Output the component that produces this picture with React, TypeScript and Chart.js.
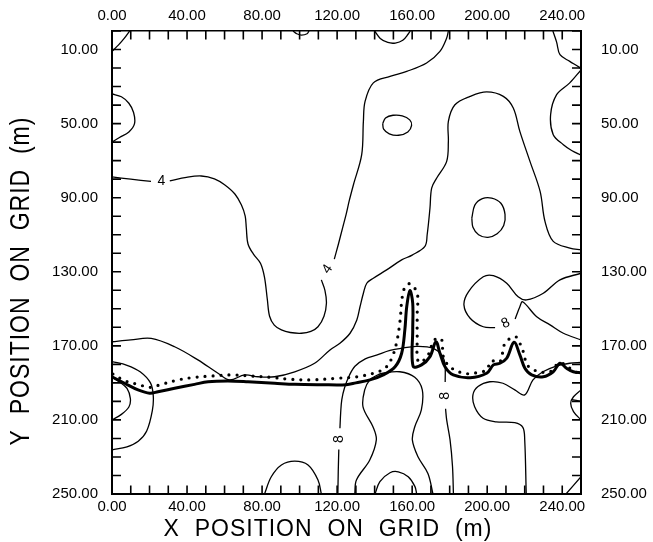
import React, { useEffect, useRef } from "react";
import { Chart, registerables } from "chart.js";

Chart.register(...registerables);

type Pt = [number, number] | null;

// axis labels
const xLabelValues = [0, 40, 80, 120, 160, 200, 240];
const yLabelValues = [10, 50, 90, 130, 170, 210, 250];

// thin contour lines (x, y in metres); null = break for a label
const cornerArc: Pt[] = [[0, 11], [3.5, 7.5], [6.5, 4], [9.4, 0]];
const leftBulge: Pt[] = [[0, 34], [5, 35.5], [9, 39], [11.5, 44], [12, 50], [9, 54.5], [4, 57.5], [0, 60]];
const contour4: Pt[] = [
  [0, 78.8], [10, 80], [20.8, 81.2], null, [30.8, 80.9], [39.7, 79], [47.6, 78.3], [54.6, 79.8],
  [60, 83], [65.5, 88], [69, 94], [71, 100], [71.6, 106.4], [72.5, 115], [75.4, 120.5], [79.2, 125.5],
  [81.3, 133], [82.8, 145], [84, 154], [86.5, 158.8], [90.3, 161.4], [95, 162.8], [101, 163.2],
  [106, 162.2], [109.8, 159.7], [113, 154], [114.3, 147], [113.5, 140], [111.6, 134.4], null,
  [118.5, 123.2], [120.6, 115.4], [123, 106], [124.8, 99], [126.5, 91.5], [128.7, 83], [133.1, 66.8],
  [134, 48.8], [134.9, 38], [139.3, 28], [148.2, 24.5], [157.1, 21.8], [167.7, 17.3], [174.8, 11],
  [178.4, 3.8], [179.3, 0],
];
const topBlip: Pt[] = [[96.5, 0], [98.5, 1.5], [101, 2.2], [104, 1.5], [105, 0]];
const topArc: Pt[] = [[140, 0], [143, 4], [147, 6.2], [151, 6.5], [155, 5], [158, 1.5], [159, 0]];
const upperRing: Pt[] = [
  [144.3, 50], [145.8, 47], [149.8, 45.5], [154.7, 45.8], [158.7, 48], [159.7, 51],
  [157.7, 54.5], [152.8, 56.3], [147.8, 55.5], [144.8, 53], [144.3, 50],
];
const longContour: Pt[] = [
  [0, 167.8], [10, 166.8], [20.9, 166], [33.4, 170.5], [45.8, 177.6], [56.5, 184.8], [62.7, 188.4],
  [70.7, 185.7], [77.9, 186.7], [86.7, 186.7], [97.4, 184], [108, 179.4], [116.2, 172.2],
  [121.5, 168.6], [126.9, 163.2], [130.5, 156], [132.2, 148.9], [134, 141.6], [135.8, 136.2],
  [139.3, 133.5], [146.4, 129], [154.4, 123.6], [160, 121], [166.8, 116.3], [168, 110],
  [169.5, 95.6], [170.4, 84.8], [173.1, 79.4], [178.4, 70.4], [179.3, 59.6], [179.3, 48.8],
  [182.8, 39.8], [190.9, 35.3], [199.7, 32.9], [208.6, 35.3], [213.9, 41.6], [217.4, 54.2],
  [222.8, 70.4], [228.2, 86.6], [230.8, 102.8], [235.2, 113.6], [244.1, 117.2], [250, 118.1],
];
const rightTop: Pt[] = [[235, 0], [237, 6], [238.8, 12.8], [244, 16.4], [249, 19.5], [250, 20.5]];
const rightBulge: Pt[] = [[250, 21], [244, 28], [237, 34.4], [233.8, 45.2], [235.2, 56], [240.6, 61.4], [245, 64.5], [250, 67]];
const midRing: Pt[] = [
  [191.8, 101], [193.4, 94], [197.4, 90.5], [202.4, 90.2], [207.3, 93], [209.5, 99],
  [208.8, 105], [205.3, 109.5], [200.4, 111.4], [195.4, 110], [192.4, 106], [191.8, 101],
];
const leftOuter: Pt[] = [[0, 178.5], [8, 180.5], [15, 184], [20.5, 190], [22, 197], [21.5, 205], [18.5, 216], [14, 221.5], [8, 224.5], [0, 226.2]];
const leftInner: Pt[] = [[0, 187], [4, 189.5], [8, 193], [9.8, 198.5], [9, 203], [5, 207], [0, 210]];
const bottomDome: Pt[] = [[81.3, 250], [84.9, 240.7], [90.3, 234.3], [97.4, 232.2], [104.5, 234.3], [109.8, 242.4], [111.6, 250]];
const contour8: Pt[] = [
  [120.4, 250], [120.6, 238], [120.9, 226], null, [121.5, 214.5], [121.9, 206], [122.5, 199],
  [124, 192.5], [126.5, 186], [129.5, 181], [135, 177], [141, 175], [148.2, 172.5], [155, 171.2],
  [162, 170.3], [168, 170.6], [172, 171.8], [175, 174], [177, 177.5], [177.6, 181.3], [177.6, 189.5],
  null, [177.8, 204], [178.4, 210], [180.2, 220.8], [181.5, 235], [182, 250],
];
const bottle: Pt[] = [
  [129.4, 250], [130.3, 242.4], [137.4, 231.6], [140.9, 220.8], [139.1, 213.7], [133.8, 202.9],
  [134.7, 193.8], [137.4, 188.4], [141, 186], [144.4, 184.8], [153.4, 184], [161.4, 187],
  [165.4, 193.8], [164.9, 204.6], [161.4, 213.7], [160.1, 220.8], [163.1, 229.9], [168.4, 238.9], [171.1, 250],
];
const smallDome: Pt[] = [[140.2, 250], [142.8, 243.3], [148.2, 238.5], [152.6, 238], [157.9, 240.7], [161.5, 246], [162.4, 250]];
const rightHook: Pt[] = [
  [220.8, 250], [220, 220.8], [219, 214], [214.7, 211.5], [204.8, 211], [197.8, 209.1], [193.3, 202.9],
  [192.4, 196.5], [195.1, 192], [201.4, 189.4], [208.4, 190.2], [214.7, 193.8], [220, 196.5],
  [224.4, 188.4], [229.7, 184], [236.8, 180.9], [244, 179.4], [250, 179],
];
const saddle: Pt[] = [
  [250, 130.8], [238.8, 134.4], [229.9, 141.6], [221, 145.2], [216.5, 143.5], [210.4, 136.2],
  [203.3, 132.1], [197.9, 132.7], [190, 140.8], [187.6, 147.9], [190.9, 155.1], [197.9, 159.7],
  [204.2, 160.2], null, [214.9, 155.5], [217.4, 148.9], [218.9, 146.2], [226.4, 154.3],
  [233.5, 158.7], [240.6, 163.2], [250, 166.8],
];
const edgeCup: Pt[] = [[250, 193.8], [246, 197.5], [244.5, 201], [246, 205.5], [250, 210]];
const edgeBar: Pt[] = [[245, 199], [250, 200]];
const cornerCut: Pt[] = [[242, 250], [250, 240.7]];

// heavy solid line and dotted line
const solidFront: Pt[] = [
  [0, 186.7], [6.7, 190.2], [13.9, 193.8], [20.1, 195.6], [24.5, 194.8], [33.4, 192.9], [44, 190.8],
  [51.2, 189.4], [61.8, 189], [72.5, 189.4], [86.7, 190.2], [97.4, 190.8], [111.6, 191], [124.9, 191],
  [130, 190], [137.5, 188.4], [144.6, 185.7], [150.9, 181.3], [154.4, 174], [156.1, 161.4],
  [157.1, 148.9], [158.8, 140.2], [160.3, 147], [160.3, 161.4], [160.5, 181], [165, 180.3],
  [169.5, 175.8], [172.7, 167.8], [174.8, 174], [177.5, 181.3], [181.9, 185.7], [190.9, 187.2],
  [199.7, 184.8], [203.3, 180.3], [206.8, 179.4], [210.4, 176.7], [214.3, 168.1], [217.4, 174.9],
  [220.1, 182.1], [223.7, 185.7], [229.9, 186.7], [235.2, 184], [238.8, 179.4], [242.3, 182.1],
  [245.9, 184], [250, 184.5],
];
const dottedFront: Pt[] = [
  [0.5, 185.2], [6.7, 188.8], [13.9, 190.8], [20.1, 192.4], [26.3, 190.8], [35.2, 188.4], [44, 187],
  [53, 186.3], [63.6, 185.7], [74.3, 186.3], [84.9, 187], [95.5, 188.1], [106.2, 188.4], [119.7, 187.5],
  [130.5, 186.7], [139.3, 184.8], [145.5, 182.1], [149.1, 176.7], [151.8, 167.8], [153.6, 156],
  [154.5, 145.2], [156.1, 138.4], [158.8, 136.5], [162.7, 141.6], [162.7, 152.4], [162.7, 165],
  [163.3, 178.6], [167.8, 176.2], [171.2, 167.8], [173.4, 165.8], [175.8, 166.8], [176.6, 175.8],
  [180.1, 181.3], [187.3, 184.8], [192.3, 184.8], [199.7, 183], [201.9, 178.2], [206.8, 178.6],
  [209.5, 168.6], [214.9, 165], [217.4, 168.6], [219.5, 174], [221.3, 180.3], [226.4, 183.6],
  [233.5, 184], [238, 179.4], [242, 180.3], [245, 182.9], [248.6, 184.8],
];

const thinLines: Pt[][] = [
  cornerArc, leftBulge, contour4, topBlip, topArc, upperRing, longContour, rightTop, rightBulge,
  midRing, leftOuter, leftInner, bottomDome, contour8, bottle, smallDome, rightHook, saddle,
  edgeCup, edgeBar, cornerCut,
];

// contour value labels
const labelText = ["4", "4", "8", "8", "8"];
const labelX = [26.3, 114.8, 121.3, 177.5, 209.8];
const labelY = [81.2, 128.6, 220.3, 197, 157.8];
const labelAngle = [0, -56, -90, -90, -25];

const toData = (pts: Pt[]) => pts.map((p) => (p ? { x: p[0], y: p[1] } : { x: null, y: null }));

const FONT = "'Liberation Sans', Arial, Helvetica, sans-serif";

const decorPlugin = {
  id: "decor",
  afterDraw(chart: any) {
    const { ctx, chartArea: a } = chart;
    const sx = chart.scales.x;
    const sy = chart.scales.y;
    ctx.save();
    // inward tick marks on all four sides
    ctx.strokeStyle = "#000";
    ctx.lineWidth = 1.6;
    ctx.beginPath();
    sx.ticks.forEach((t: any) => {
      const p = sx.getPixelForValue(t.value);
      ctx.moveTo(p, a.bottom);
      ctx.lineTo(p, a.bottom - 8.5);
      ctx.moveTo(p, a.top);
      ctx.lineTo(p, a.top + 8.5);
    });
    sy.ticks.forEach((t: any) => {
      const p = sy.getPixelForValue(t.value);
      ctx.moveTo(a.left, p);
      ctx.lineTo(a.left + 9, p);
      ctx.moveTo(a.right, p);
      ctx.lineTo(a.right - 9, p);
    });
    ctx.stroke();

    // contour labels
    ctx.fillStyle = "#000";
    ctx.font = `14px ${FONT}`;
    ctx.textAlign = "center";
    ctx.textBaseline = "middle";
    labelText.forEach((s, i) => {
      ctx.save();
      ctx.translate(sx.getPixelForValue(labelX[i]), sy.getPixelForValue(labelY[i]));
      ctx.rotate((labelAngle[i] * Math.PI) / 180);
      ctx.fillText(s, 0, 0);
      ctx.restore();
    });

    // axis titles
    ctx.font = `23px ${FONT}`;
    if ("letterSpacing" in ctx) ctx.letterSpacing = "1px";
    ctx.fillText("X  POSITION  ON  GRID  (m)", a.left + 216, a.bottom + 36);
    ctx.save();
    ctx.translate(21, a.top + 250);
    ctx.rotate(-Math.PI / 2);
    ctx.scale(1, 1.2);
    ctx.fillText("Y  POSITION  ON  GRID  (m)", 0, 0);
    ctx.restore();
    ctx.restore();
  },
};

export default function App() {
  const canvasRef = useRef<HTMLCanvasElement>(null);
  const chartRef = useRef<Chart | null>(null);

  useEffect(() => {
    if (!canvasRef.current) return;
    if (chartRef.current) chartRef.current.destroy();

    const thinSets = thinLines.map((pts) => ({
      data: toData(pts),
      showLine: true,
      borderColor: "#000",
      borderWidth: 1.3,
      pointRadius: 0,
      tension: 0.35,
      xAxisID: "x",
      yAxisID: "y",
    }));

    const tickFont = { family: FONT, size: 15 };
    const xFmt = (v: any) => (xLabelValues.includes(Number(v)) ? Number(v).toFixed(2) : "");
    const yFmt = (v: any) => (yLabelValues.includes(Number(v)) ? Number(v).toFixed(2) : "");
    const common = { min: 0, max: 250, type: "linear" as const };

    chartRef.current = new Chart(canvasRef.current, {
      type: "scatter",
      data: {
        datasets: [
          ...thinSets,
          {
            data: toData(solidFront),
            showLine: true,
            borderColor: "#000",
            borderWidth: 3,
            pointRadius: 0,
            tension: 0.35,
            xAxisID: "x",
            yAxisID: "y",
          },
          {
            data: toData(dottedFront),
            showLine: true,
            borderColor: "#000",
            borderWidth: 3.2,
            borderDash: [0, 8],
            borderCapStyle: "round",
            pointRadius: 0,
            tension: 0.35,
            xAxisID: "x",
            yAxisID: "y",
          },
        ] as any,
      },
      options: {
        animation: false,
        responsive: true,
        maintainAspectRatio: false,
        layout: { padding: 0 },
        plugins: { legend: { display: false }, tooltip: { enabled: false } },
        scales: {
          x: {
            ...common,
            position: "bottom",
            afterFit: (s: any) => { s.height = 48; },
            grid: { display: false, drawTicks: false },
            border: { display: true, color: "#000", width: 2 },
            ticks: { stepSize: 10, maxTicksLimit: 100, autoSkip: false, maxRotation: 0, padding: 4, color: "#000", font: tickFont, callback: xFmt },
          },
          x2: {
            ...common,
            position: "top",
            afterFit: (s: any) => { s.height = 31; },
            grid: { display: false, drawTicks: false },
            border: { display: true, color: "#000", width: 1.6 },
            ticks: { stepSize: 10, maxTicksLimit: 100, autoSkip: false, maxRotation: 0, padding: 6, color: "#000", font: tickFont, callback: xFmt },
          },
          y: {
            ...common,
            reverse: true,
            position: "left",
            afterFit: (s: any) => { s.width = 112; },
            grid: { display: false, drawTicks: false },
            border: { display: true, color: "#000", width: 2 },
            ticks: { stepSize: 10, maxTicksLimit: 100, autoSkip: false, padding: 14, color: "#000", font: tickFont, callback: yFmt },
          },
          y2: {
            ...common,
            reverse: true,
            position: "right",
            afterFit: (s: any) => { s.width = 72; },
            grid: { display: false, drawTicks: false },
            border: { display: true, color: "#000", width: 2 },
            ticks: { stepSize: 10, maxTicksLimit: 100, autoSkip: false, padding: 20, color: "#000", font: tickFont, callback: yFmt },
          },
        },
      } as any,
      plugins: [decorPlugin],
    });

    return () => {
      if (chartRef.current) {
        chartRef.current.destroy();
        chartRef.current = null;
      }
    };
  }, []);

  return (
    <div style={{ position: "fixed", left: 0, top: 0, width: 653, height: 542, background: "#fff" }}>
      <canvas ref={canvasRef} />
    </div>
  );
}
